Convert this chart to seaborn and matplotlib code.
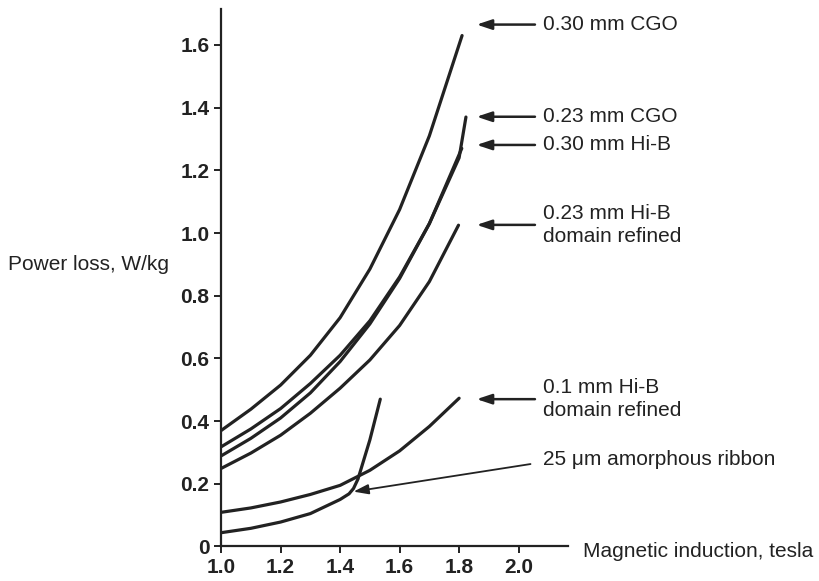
import matplotlib
matplotlib.use("Agg")
import matplotlib.pyplot as plt
import seaborn as sns
import pandas as pd

# curves (tesla, W/kg)
cgo30_b = [1.0, 1.1, 1.2, 1.3, 1.4, 1.5, 1.6, 1.7, 1.81]
cgo30_p = [0.37, 0.438, 0.515, 0.61, 0.73, 0.885, 1.075, 1.31, 1.63]

cgo23_b = [1.0, 1.1, 1.2, 1.3, 1.4, 1.5, 1.6, 1.7, 1.8, 1.823]
cgo23_p = [0.318, 0.375, 0.44, 0.52, 0.61, 0.72, 0.86, 1.03, 1.24, 1.37]

hib30_b = [1.0, 1.1, 1.2, 1.3, 1.4, 1.5, 1.6, 1.7, 1.809]
hib30_p = [0.289, 0.345, 0.41, 0.49, 0.59, 0.71, 0.855, 1.03, 1.27]

hib23_b = [1.0, 1.1, 1.2, 1.3, 1.4, 1.5, 1.6, 1.7, 1.798]
hib23_p = [0.249, 0.298, 0.355, 0.425, 0.505, 0.595, 0.705, 0.845, 1.025]

hib10_b = [1.0, 1.1, 1.2, 1.3, 1.4, 1.5, 1.6, 1.7, 1.80]
hib10_p = [0.109, 0.123, 0.142, 0.166, 0.195, 0.243, 0.305, 0.383, 0.473]

amorph_b = [1.0, 1.1, 1.2, 1.3, 1.4, 1.43, 1.445, 1.46, 1.50, 1.535]
amorph_p = [0.044, 0.058, 0.078, 0.105, 0.15, 0.168, 0.185, 0.215, 0.34, 0.47]

labels = ["0.30 mm CGO", "0.23 mm CGO", "0.30 mm Hi-B",
          "0.23 mm Hi-B\ndomain refined", "0.1 mm Hi-B\ndomain refined"]
label_y = [1.665, 1.371, 1.281, 1.026, 0.47]

amorph_label = "25 \u03bcm amorphous ribbon"

xticks = [1.0, 1.2, 1.4, 1.6, 1.8, 2.0]
yticks = [0, 0.2, 0.4, 0.6, 0.8, 1.0, 1.2, 1.4, 1.6]
ytick_labels = ["0", "0.2", "0.4", "0.6", "0.8", "1.0", "1.2", "1.4", "1.6"]

frames = []
for name, b, p in [("cgo30", cgo30_b, cgo30_p), ("cgo23", cgo23_b, cgo23_p),
                   ("hib30", hib30_b, hib30_p), ("hib23", hib23_b, hib23_p),
                   ("hib10", hib10_b, hib10_p), ("amorph", amorph_b, amorph_p)]:
    frames.append(pd.DataFrame({"material": name, "B": b, "P": p}))
df = pd.concat(frames, ignore_index=True)

sns.set_style("ticks")
plt.rcParams["font.family"] = ["Liberation Sans", "DejaVu Sans"]
ink = "#222222"

fig = plt.figure(figsize=(8.19, 5.81), dpi=100)
ax = fig.add_axes([0.270, 0.0594, 0.4235, 0.925])

sns.lineplot(data=df, x="B", y="P", units="material", estimator=None,
             sort=False, color=ink, lw=2.3, ax=ax, legend=False)

ax.set_xlim(1.0, 2.166)
ax.set_ylim(0, 1.7145)
ax.set_xticks(xticks)
ax.set_xticklabels([f"{t:.1f}" for t in xticks])
ax.set_yticks(yticks)
ax.set_yticklabels(ytick_labels)
ax.tick_params(labelsize=15, length=5, width=1.4, color=ink, labelcolor=ink)
for t in ax.get_xticklabels() + ax.get_yticklabels():
    t.set_fontweight("bold")
sns.despine(ax=ax)
for s in ["left", "bottom"]:
    ax.spines[s].set_linewidth(1.6)
    ax.spines[s].set_color(ink)

ax.set_ylabel("Power loss, W/kg", rotation=0, ha="left", va="center",
              fontsize=15, color=ink)
ax.yaxis.set_label_coords(-0.614, 0.524)
ax.set_xlabel("Magnetic induction, tesla", ha="left", va="center",
              fontsize=15, color=ink)
ax.xaxis.set_label_coords(1.043, -0.0097)

arrow = dict(arrowstyle="-|>,head_length=0.9,head_width=0.3", color=ink,
             lw=1.8, mutation_scale=10, shrinkA=0, shrinkB=0)
for lab, y in zip(labels, label_y):
    ax.annotate("", xy=(1.859, y), xytext=(2.055, y), arrowprops=arrow,
                annotation_clip=False)
    ax.text(2.083, y, lab, va="center", ha="left", fontsize=15, color=ink,
            linespacing=1.25, clip_on=False)

ax.annotate("", xy=(1.445, 0.175), xytext=(2.04, 0.263),
            arrowprops=dict(arrow, lw=1.3), annotation_clip=False)
ax.text(2.083, 0.276, amorph_label, va="center", ha="left", fontsize=15,
        color=ink, clip_on=False)

fig.savefig("out.png", dpi=100)
